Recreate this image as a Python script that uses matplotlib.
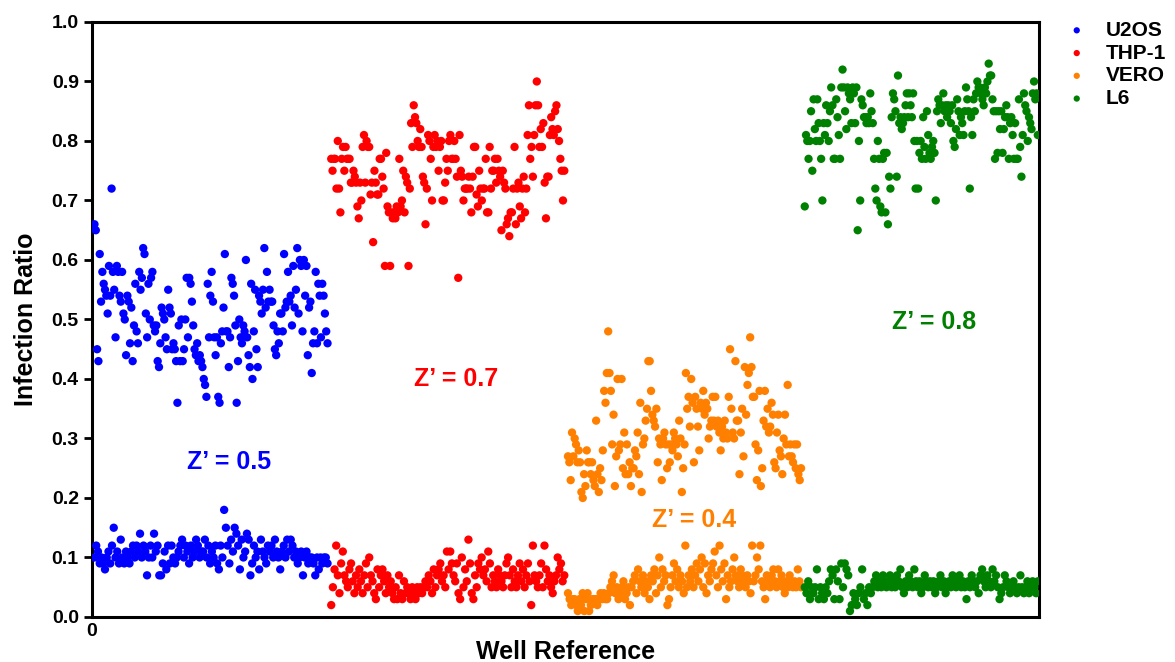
import numpy as np
import matplotlib
matplotlib.use('Agg')
import matplotlib.pyplot as plt

plt.rcParams['font.family'] = ['Liberation Sans', 'DejaVu Sans']
plt.rcParams['font.weight'] = 'bold'
plt.rcParams['axes.labelweight'] = 'bold'

# infection ratio per well, read left to right (high = infected control, low = uninfected)
u2os_hi = [0.66,0.65,0.45,0.43,0.61,0.53,0.58,0.56,0.55,0.54,0.51,0.59,0.54,0.72,0.58,0.55,0.47,0.59,0.58,0.54,
           0.53,0.58,0.51,0.50,0.44,0.54,0.53,0.46,0.52,0.43,0.49,0.56,0.48,0.46,0.58,0.55,0.57,0.62,0.61,0.51,
           0.47,0.56,0.50,0.57,0.58,0.49,0.48,0.49,0.43,0.42,0.46,0.52,0.51,0.50,0.47,0.45,0.55,0.52,0.51,0.45,
           0.46,0.45,0.43,0.36,0.49,0.43,0.50,0.43,0.45,0.50,0.57,0.47,0.57,0.56,0.53,0.49,0.45,0.44,0.46,0.43,
           0.44,0.43,0.42,0.40,0.39,0.37,0.56,0.47,0.54,0.58,0.53,0.47,0.44,0.47,0.37,0.36,0.46,0.48,0.52,0.61,
           0.48,0.48,0.42,0.47,0.57,0.56,0.54,0.49,0.36,0.43,0.50,0.47,0.46,0.49,0.48,0.60,0.47,0.44,0.42,0.56,
           0.40,0.48,0.55,0.45,0.42,0.54,0.53,0.51,0.55,0.62,0.52,0.58,0.53,0.55,0.53,0.53,0.49,0.45,0.44,0.48,
           0.46,0.51,0.51,0.48,0.61,0.52,0.53,0.58,0.53,0.54,0.49,0.59,0.52,0.55,0.62,0.51,0.60,0.59,0.48,0.60,
           0.54,0.59,0.44,0.52,0.53,0.41,0.46,0.48,0.58,0.46,0.56,0.54,0.47,0.56,0.54,0.51,0.48,0.46]
u2os_lo = [0.10,0.12,0.11,0.09,0.10,0.09,0.08,0.10,0.11,0.09,0.12,0.15,0.10,0.11,0.09,0.13,0.10,0.09,0.11,0.10,
           0.09,0.11,0.12,0.10,0.12,0.11,0.14,0.10,0.12,0.11,0.07,0.10,0.12,0.10,0.14,0.11,0.12,0.07,0.07,0.09,
           0.11,0.08,0.12,0.09,0.12,0.10,0.09,0.10,0.11,0.12,0.13,0.10,0.12,0.11,0.09,0.12,0.10,0.11,0.13,0.12,
           0.10,0.11,0.11,0.13,0.10,0.12,0.09,0.11,0.10,0.12,0.09,0.08,0.12,0.10,0.18,0.15,0.12,0.09,0.13,0.11,
           0.15,0.14,0.12,0.08,0.13,0.10,0.11,0.14,0.13,0.07,0.09,0.12,0.10,0.11,0.08,0.13,0.11,0.10,0.09,0.12,
           0.11,0.12,0.10,0.13,0.11,0.10,0.08,0.11,0.12,0.10,0.13,0.11,0.13,0.12,0.10,0.11,0.09,0.10,0.11,0.07,
           0.10,0.11,0.09,0.10,0.10,0.09,0.07,0.10,0.08,0.10,0.09,0.10,0.10,0.09]

thp1_hi = [0.77,0.75,0.77,0.77,0.72,0.80,0.72,0.68,0.77,0.79,0.75,0.79,0.77,0.77,0.77,0.73,0.73,0.75,0.74,0.73,
           0.69,0.67,0.73,0.70,0.79,0.81,0.73,0.80,0.79,0.79,0.71,0.73,0.63,0.75,0.73,0.71,0.71,0.77,0.77,0.74,
           0.72,0.59,0.78,0.69,0.68,0.59,0.68,0.67,0.68,0.67,0.69,0.68,0.77,0.69,0.70,0.75,0.68,0.74,0.73,0.59,
           0.72,0.83,0.79,0.86,0.84,0.83,0.80,0.79,0.82,0.79,0.74,0.73,0.66,0.72,0.81,0.80,0.77,0.70,0.79,0.81,
           0.79,0.80,0.75,0.79,0.80,0.70,0.70,0.73,0.77,0.75,0.80,0.81,0.77,0.77,0.80,0.77,0.74,0.57,0.81,0.75,
           0.74,0.70,0.72,0.72,0.72,0.74,0.72,0.68,0.74,0.79,0.79,0.71,0.69,0.75,0.72,0.70,0.72,0.72,0.77,0.68,
           0.68,0.79,0.72,0.75,0.75,0.77,0.73,0.77,0.75,0.74,0.65,0.75,0.73,0.72,0.66,0.67,0.64,0.68,0.68,0.72,
           0.79,0.66,0.72,0.73,0.69,0.67,0.72,0.74,0.68,0.72,0.81,0.86,0.77,0.79,0.74,0.81,0.86,0.90,0.86,0.79,
           0.82,0.79,0.83,0.73,0.67,0.74,0.74,0.81,0.84,0.82,0.81,0.85,0.86,0.82,0.80,0.77,0.75,0.70,0.75]
thp1_lo = [0.02,0.05,0.08,0.12,0.07,0.04,0.09,0.11,0.07,0.06,0.05,0.08,0.09,0.06,0.04,0.07,0.05,0.08,0.06,0.04,
           0.07,0.09,0.05,0.10,0.07,0.06,0.04,0.03,0.08,0.05,0.07,0.08,0.06,0.04,0.07,0.05,0.06,0.04,0.03,0.05,
           0.03,0.07,0.04,0.03,0.06,0.04,0.05,0.04,0.03,0.05,0.04,0.03,0.05,0.04,0.05,0.04,0.05,0.06,0.05,0.07,
           0.06,0.04,0.08,0.05,0.07,0.08,0.09,0.06,0.07,0.05,0.11,0.08,0.11,0.09,0.07,0.06,0.09,0.04,0.03,0.10,
           0.05,0.08,0.06,0.13,0.09,0.04,0.03,0.07,0.05,0.09,0.08,0.10,0.07,0.08,0.06,0.11,0.09,0.05,0.07,0.06,
           0.05,0.08,0.07,0.06,0.05,0.07,0.09,0.10,0.07,0.05,0.08,0.06,0.05,0.07,0.09,0.06,0.08,0.05,0.07,0.09,
           0.06,0.02,0.12,0.07,0.06,0.05,0.07,0.09,0.05,0.12,0.08,0.06,0.07,0.05,0.04,0.06,0.07,0.10,0.08,0.09,
           0.06,0.07]

vero_hi = [0.27,0.26,0.23,0.31,0.27,0.30,0.29,0.26,0.28,0.26,0.21,0.20,0.24,0.22,0.28,0.26,0.26,0.24,0.26,0.23,
           0.22,0.33,0.24,0.21,0.25,0.23,0.28,0.38,0.36,0.41,0.48,0.41,0.38,0.29,0.34,0.22,0.27,0.40,0.28,0.29,
           0.40,0.25,0.31,0.24,0.29,0.24,0.26,0.22,0.25,0.25,0.28,0.27,0.31,0.24,0.36,0.21,0.29,0.30,0.33,0.35,
           0.43,0.43,0.38,0.34,0.33,0.32,0.35,0.26,0.30,0.29,0.23,0.30,0.31,0.29,0.25,0.29,0.26,0.29,0.28,0.31,
           0.30,0.29,0.27,0.33,0.30,0.21,0.25,0.29,0.41,0.35,0.37,0.32,0.40,0.36,0.26,0.37,0.35,0.32,0.28,0.36,
           0.35,0.38,0.34,0.36,0.35,0.30,0.32,0.33,0.37,0.33,0.37,0.32,0.33,0.31,0.28,0.32,0.30,0.33,0.31,0.30,
           0.37,0.45,0.35,0.31,0.30,0.43,0.33,0.33,0.24,0.31,0.35,0.27,0.42,0.34,0.39,0.41,0.47,0.42,0.37,0.37,
           0.29,0.23,0.28,0.38,0.22,0.25,0.33,0.38,0.32,0.35,0.31,0.32,0.36,0.34,0.26,0.25,0.31,0.34,0.28,0.27,
           0.24,0.30,0.34,0.29,0.39,0.27,0.29,0.27,0.26,0.29,0.25,0.29,0.24,0.23,0.25]
vero_lo = [0.04,0.03,0.02,0.03,0.03,0.02,0.01,0.03,0.02,0.04,0.01,0.03,0.04,0.01,0.02,0.03,0.03,0.03,0.02,0.03,
           0.04,0.03,0.04,0.03,0.03,0.04,0.05,0.06,0.07,0.04,0.05,0.03,0.04,0.05,0.06,0.03,0.04,0.05,0.02,0.05,
           0.06,0.07,0.04,0.08,0.06,0.05,0.07,0.04,0.06,0.05,0.03,0.07,0.06,0.08,0.04,0.07,0.10,0.05,0.08,0.06,
           0.07,0.02,0.03,0.05,0.07,0.09,0.06,0.08,0.05,0.07,0.06,0.04,0.12,0.05,0.07,0.06,0.08,0.05,0.07,0.09,
           0.06,0.08,0.10,0.05,0.09,0.04,0.07,0.06,0.08,0.09,0.11,0.07,0.05,0.12,0.08,0.06,0.09,0.03,0.07,0.05,
           0.06,0.08,0.10,0.07,0.06,0.05,0.08,0.07,0.06,0.05,0.07,0.06,0.04,0.12,0.06,0.07,0.10,0.08,0.12,0.06,
           0.05,0.03,0.07,0.06,0.05,0.07,0.08,0.06,0.05,0.08,0.06,0.07,0.05,0.04,0.06,0.05,0.07,0.06,0.05,0.06,
           0.05,0.08,0.06,0.05]

l6_hi = [0.69,0.81,0.80,0.77,0.80,0.85,0.75,0.87,0.82,0.80,0.87,0.83,0.80,0.77,0.70,0.83,0.81,0.86,0.83,0.80,
         0.85,0.89,0.86,0.77,0.77,0.87,0.84,0.81,0.77,0.89,0.92,0.89,0.85,0.82,0.89,0.88,0.87,0.83,0.89,0.88,
         0.83,0.89,0.65,0.80,0.70,0.87,0.86,0.84,0.84,0.83,0.84,0.83,0.88,0.85,0.83,0.77,0.72,0.70,0.80,0.77,
         0.69,0.68,0.77,0.78,0.68,0.78,0.66,0.74,0.72,0.84,0.88,0.87,0.85,0.74,0.91,0.83,0.84,0.82,0.83,0.84,
         0.86,0.88,0.84,0.88,0.86,0.84,0.88,0.80,0.72,0.80,0.72,0.78,0.80,0.77,0.84,0.79,0.77,0.85,0.81,0.78,
         0.77,0.79,0.80,0.78,0.70,0.85,0.87,0.86,0.83,0.86,0.88,0.85,0.86,0.84,0.86,0.85,0.83,0.86,0.80,0.79,
         0.82,0.87,0.85,0.81,0.84,0.83,0.81,0.85,0.89,0.87,0.85,0.72,0.84,0.81,0.87,0.85,0.88,0.90,0.89,0.89,
         0.88,0.87,0.86,0.89,0.88,0.90,0.93,0.91,0.91,0.87,0.85,0.77,0.85,0.78,0.85,0.82,0.85,0.78,0.82,0.84,
         0.86,0.84,0.77,0.83,0.84,0.81,0.77,0.83,0.77,0.77,0.87,0.79,0.74,0.81,0.88,0.86,0.85,0.80,0.84,0.83,
         0.82,0.88,0.90,0.87,0.88,0.81]
l6_lo = [0.05,0.04,0.06,0.03,0.05,0.04,0.05,0.08,0.03,0.05,0.04,0.03,0.05,0.04,0.06,0.08,0.07,0.03,0.08,0.06,
         0.03,0.09,0.05,0.09,0.08,0.07,0.01,0.02,0.04,0.03,0.02,0.04,0.05,0.08,0.03,0.04,0.02,0.05,0.04,0.05,
         0.06,0.07,0.05,0.06,0.05,0.07,0.06,0.05,0.06,0.07,0.05,0.06,0.05,0.07,0.06,0.08,0.05,0.04,0.06,0.05,
         0.07,0.06,0.05,0.08,0.06,0.05,0.06,0.04,0.05,0.07,0.06,0.05,0.06,0.05,0.06,0.04,0.05,0.06,0.07,0.05,
         0.06,0.04,0.05,0.06,0.05,0.07,0.06,0.05,0.06,0.07,0.05,0.06,0.05,0.03,0.06,0.05,0.07,0.06,0.05,0.06,
         0.04,0.07,0.08,0.06,0.05,0.07,0.06,0.05,0.08,0.06,0.07,0.05,0.03,0.04,0.05,0.07,0.06,0.05,0.04,0.05,
         0.06,0.05,0.04,0.05,0.07,0.05,0.04,0.05,0.06,0.04,0.05,0.06,0.05,0.04,0.06]

cell_lines = ['U2OS', 'THP-1', 'VERO', 'L6']
colors = ['#0000ff', '#ff0000', '#ff8000', '#008000']
z_labels = ['Z\u2019 = 0.5', 'Z\u2019 = 0.7', 'Z\u2019 = 0.4', 'Z\u2019 = 0.8']
z_xy = [(222, 0.26), (591, 0.40), (977, 0.163), (1366, 0.495)]

wells = 384  # one 384-well plate per cell line

highs = [u2os_hi, thp1_hi, vero_hi, l6_hi]
lows = [u2os_lo, thp1_lo, vero_lo, l6_lo]

fig = plt.figure(figsize=(11.75, 6.62), dpi=100)
ax = fig.add_axes([0.0783, 0.068, 0.806, 0.8988])

for i in range(4):
    start = i * wells
    x_hi = np.linspace(start + 4, start + wells - 2, len(highs[i]))
    x_lo = np.linspace(start + 4, start + wells - 2, len(lows[i]))
    ax.scatter(x_hi, highs[i], s=36, color=colors[i], edgecolors='none', label=cell_lines[i], zorder=3)
    ax.scatter(x_lo, lows[i], s=36, color=colors[i], edgecolors='none', zorder=3)
    ax.text(z_xy[i][0], z_xy[i][1], z_labels[i], color=colors[i], fontsize=18,
            fontweight='bold', ha='center', va='center')

ax.set_xlim(0, 4 * wells)
ax.set_ylim(0, 1.0)
ax.set_yticks(np.arange(0, 1.01, 0.1))
ax.set_yticklabels(['%.1f' % v for v in np.arange(0, 1.01, 0.1)])
ax.set_xticks([0])
ax.set_xticklabels(['0'])
ax.tick_params(axis='both', labelsize=14, width=2, length=6, direction='out')
ax.tick_params(axis='x', length=0, pad=4)

for sp in ax.spines.values():
    sp.set_linewidth(2.2)
    sp.set_color('black')

ax.set_ylabel('Infection Ratio', fontsize=18, labelpad=10)
ax.set_xlabel('Well Reference', fontsize=18, labelpad=0)

ax.legend(loc='upper left', bbox_to_anchor=(1.02, 1.016), frameon=False, fontsize=15,
          handlelength=1.0, handletextpad=0.9, labelspacing=0.18, markerscale=0.75, borderaxespad=0)

fig.savefig('out.png', dpi=100)
